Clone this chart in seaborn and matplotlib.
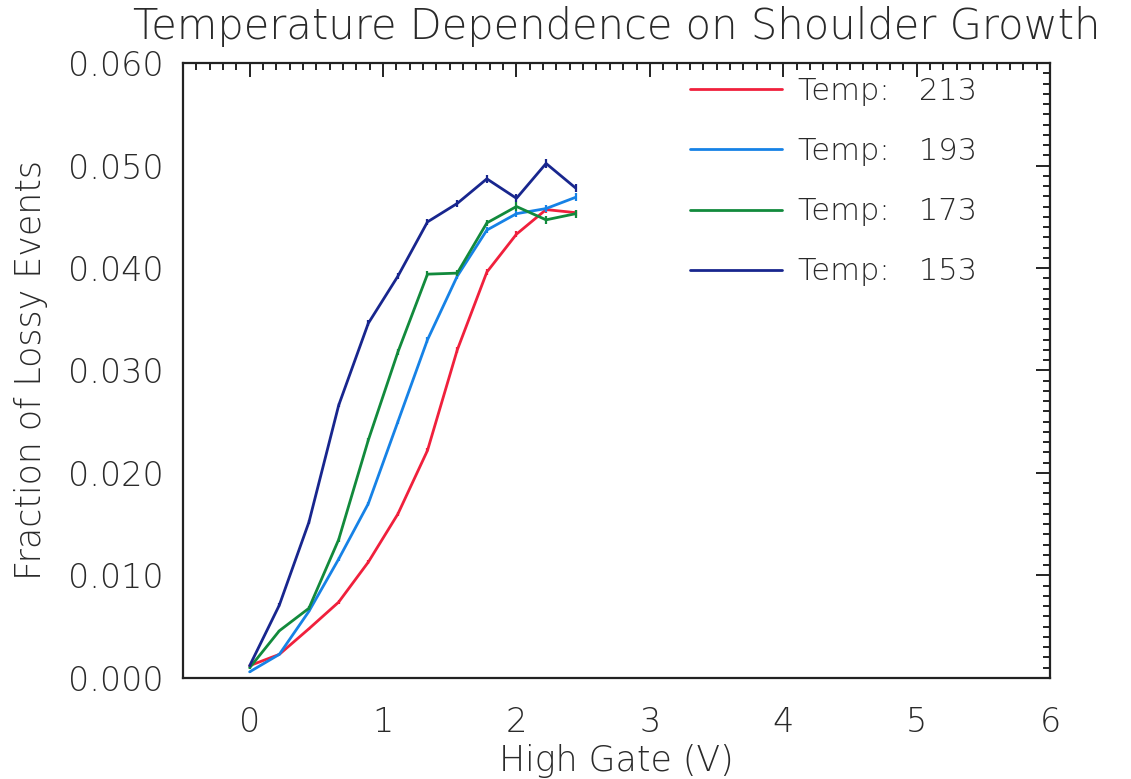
import numpy as np
import pandas as pd
import matplotlib
matplotlib.use("Agg")
import matplotlib.pyplot as plt
from matplotlib.ticker import MultipleLocator, FormatStrFormatter
import seaborn as sns

# ---- data ----
gate_v = [0.0, 0.222, 0.444, 0.667, 0.889, 1.111, 1.333, 1.556, 1.778, 2.0, 2.222, 2.444]
temps = ["213", "193", "173", "153"]
frac_213 = [0.0012, 0.0023, 0.0048, 0.0074, 0.0113, 0.0160, 0.0222, 0.0320, 0.0396, 0.0433, 0.0457, 0.0454]
frac_193 = [0.0006, 0.0023, 0.0065, 0.0116, 0.0170, 0.0250, 0.0330, 0.0392, 0.0437, 0.0453, 0.0458, 0.0469]
frac_173 = [0.0010, 0.0046, 0.0068, 0.0135, 0.0232, 0.0318, 0.0394, 0.0395, 0.0444, 0.0460, 0.0447, 0.0453]
frac_153 = [0.0012, 0.0071, 0.0152, 0.0266, 0.0346, 0.0392, 0.0445, 0.0463, 0.0487, 0.0468, 0.0502, 0.0478]
err_213 = [0.0001, 0.0001, 0.0001, 0.0002, 0.0002, 0.0002, 0.0002, 0.0003, 0.0003, 0.0003, 0.0003, 0.0003]
err_193 = [0.0001, 0.0001, 0.0001, 0.0002, 0.0002, 0.0002, 0.0003, 0.0003, 0.0003, 0.0003, 0.0003, 0.0004]
err_173 = [0.0001, 0.0001, 0.0002, 0.0002, 0.0002, 0.0003, 0.0003, 0.0003, 0.0003, 0.0004, 0.0004, 0.0004]
err_153 = [0.0001, 0.0002, 0.0002, 0.0002, 0.0003, 0.0003, 0.0003, 0.0003, 0.0004, 0.0004, 0.0004, 0.0004]
colors = ["#f0203c", "#1682e6", "#128a3c", "#18268e"]

x_ticks = [0, 1, 2, 3, 4, 5, 6]
y_ticks = [0.0, 0.01, 0.02, 0.03, 0.04, 0.05, 0.06]

series = [frac_213, frac_193, frac_173, frac_153]
errs = [err_213, err_193, err_173, err_153]

sns.set_theme(style="white")
plt.rcParams["font.family"] = ["DejaVu Sans"]
plt.rcParams["font.weight"] = "light"
plt.rcParams["axes.titleweight"] = "light"
plt.rcParams["axes.labelweight"] = "light"

fig = plt.figure(figsize=(11.31, 7.79), dpi=100)
ax = fig.add_axes([0.1618, 0.1297, 0.9284 - 0.1618, 0.9191 - 0.1297])

for t, ys, es, c in zip(temps, series, errs, colors):
    df = pd.DataFrame({"x": gate_v, "y": ys})
    sns.lineplot(data=df, x="x", y="y", ax=ax, color=c, linewidth=2,
                 estimator=None, sort=False, label=f"Temp:   {t}")
    ax.errorbar(gate_v, ys, yerr=es, fmt="none", ecolor=c, elinewidth=1.6, capsize=0)

ax.set_xlim(-0.5, 6)
ax.set_ylim(0, 0.06)
ax.set_xticks(x_ticks)
ax.set_yticks(y_ticks)
ax.yaxis.set_major_formatter(FormatStrFormatter("%.3f"))
ax.xaxis.set_minor_locator(MultipleLocator(0.1))
ax.yaxis.set_minor_locator(MultipleLocator(0.001))
ax.tick_params(which="both", direction="in", top=True, right=True, color="#222222", width=1.4)
ax.tick_params(which="major", length=10, labelsize=24, pad=14, labelcolor="#2a2a2a")
ax.tick_params(axis="x", which="major", pad=20)
ax.tick_params(which="minor", length=5)
for s in ax.spines.values():
    s.set_linewidth(1.6)
    s.set_color("#222222")

ax.set_xlabel("High Gate (V)", fontsize=25, color="#2a2a2a", labelpad=4)
ax.set_ylabel("Fraction of Lossy Events", fontsize=25, color="#2a2a2a", labelpad=14)
ax.set_title("Temperature Dependence on Shoulder Growth", fontsize=30, color="#2a2a2a", pad=17)

leg = ax.legend(loc="upper left", bbox_to_anchor=(0.553, 1.022), frameon=False,
                fontsize=22, handlelength=3.0, handletextpad=0.55, labelspacing=1.02)
for line in leg.get_lines():
    line.set_linewidth(2)
for txt in leg.get_texts():
    txt.set_color("#2a2a2a")

fig.savefig("out.png", dpi=100)
